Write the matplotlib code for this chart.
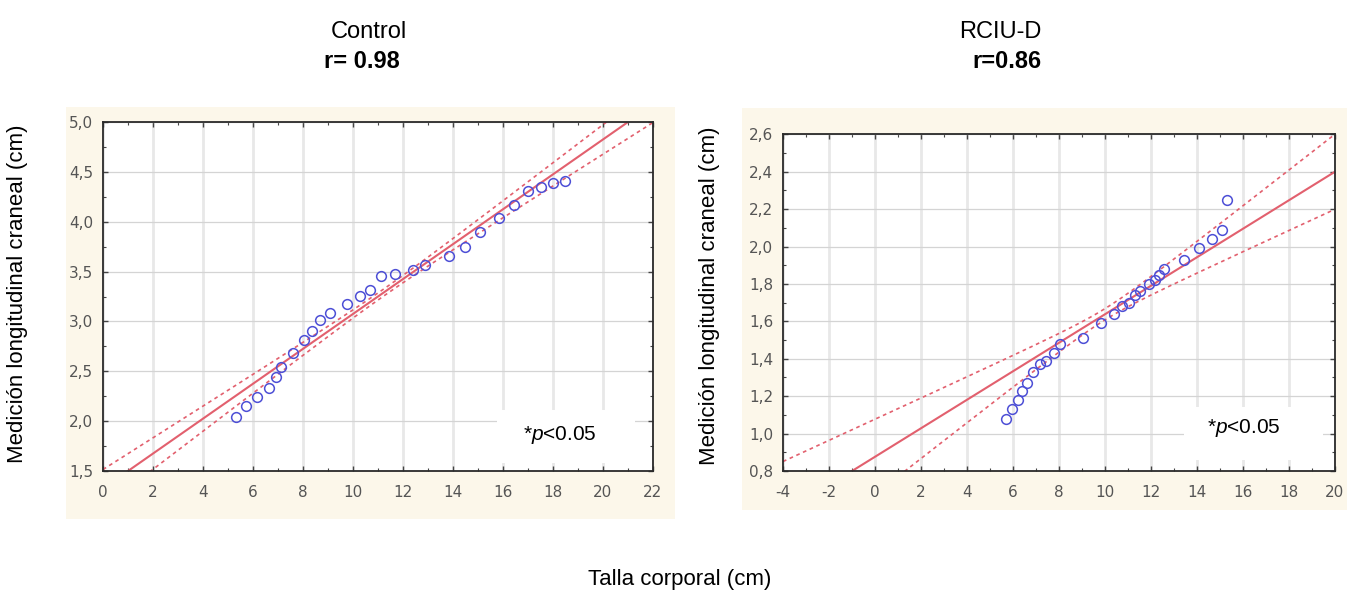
import numpy as np
import matplotlib
matplotlib.use("Agg")
import matplotlib.pyplot as plt
from matplotlib.patches import Rectangle
from matplotlib.ticker import MultipleLocator, FuncFormatter

plt.rcParams['font.family'] = ['Liberation Sans', 'DejaVu Sans']
plt.rcParams['mathtext.fontset'] = 'custom'
plt.rcParams['mathtext.rm'] = 'Liberation Sans'
plt.rcParams['mathtext.it'] = 'Liberation Sans:italic'

# Control group: body length (cm) vs cranial length (cm)
control_talla = [5.30, 5.70, 6.17, 6.62, 6.93, 7.12, 7.60, 8.02, 8.36, 8.67,
                 9.07, 9.78, 10.29, 10.68, 11.11, 11.68, 12.39, 12.87, 13.85,
                 14.48, 15.08, 15.83, 16.43, 17.01, 17.52, 18.01, 18.48]
control_craneal = [2.04, 2.15, 2.24, 2.33, 2.44, 2.54, 2.68, 2.81, 2.90, 3.01,
                   3.08, 3.17, 3.26, 3.32, 3.46, 3.48, 3.52, 3.57, 3.66,
                   3.75, 3.90, 4.04, 4.17, 4.31, 4.35, 4.39, 4.41]

# RCIU-D group
rciu_talla = [5.69, 5.95, 6.21, 6.38, 6.59, 6.88, 7.19, 7.45, 7.79, 8.05,
              9.05, 9.82, 10.37, 10.72, 11.06, 11.32, 11.54, 11.92, 12.18,
              12.35, 12.57, 13.44, 14.07, 14.67, 15.10, 15.30]
rciu_craneal = [1.08, 1.13, 1.18, 1.23, 1.27, 1.33, 1.37, 1.39, 1.43, 1.48,
                1.51, 1.59, 1.64, 1.68, 1.70, 1.74, 1.76, 1.80, 1.82,
                1.85, 1.88, 1.93, 1.99, 2.04, 2.09, 2.25]

# fitted line (slope, intercept) and 95% band (centre x, min half width, curvature)
control_fit = (0.175, 1.325)
control_band = (11.3, 0.035, 0.000273)
rciu_fit = (0.0762, 0.876)
rciu_band = (10.0, 0.03, 0.000394)

titles = ['Control', 'RCIU-D']
r_labels = ['r= 0.98', 'r=0.86']
ylabel = 'Medición longitudinal craneal (cm)'
xlabel = 'Talla corporal (cm)'
pval_label = r'*$\mathit{p}$<0.05'

CREAM = '#fcf7ea'
LINE_RED = '#e2606e'
DOT_BLUE = '#4d4fd6'


def fit_lines(fit, band, xs):
    slope, intercept = fit
    xc, h0, k = band
    y = slope * xs + intercept
    half = np.sqrt(h0 ** 2 + k * (xs - xc) ** 2)
    return y, y - half, y + half


def style_axes(ax, xlim, ylim, ystep):
    ax.set_facecolor('white')
    ax.xaxis.set_major_locator(MultipleLocator(2))
    ax.xaxis.set_minor_locator(MultipleLocator(1))
    ax.xaxis.set_major_formatter(FuncFormatter(lambda v, p: f'{v:.0f}'))
    yt = np.arange(ylim[0], ylim[1] + ystep / 2, ystep)
    ax.set_yticks(yt)
    ax.set_yticklabels([f'{t:.1f}'.replace('.', ',') for t in yt])
    ax.yaxis.set_minor_locator(MultipleLocator(ystep / 2))
    ax.set_xlim(*xlim)
    ax.set_ylim(*ylim)
    ax.set_axisbelow(True)
    ax.grid(True, axis='x', which='major', color='#e8e8e8', lw=2.0)
    ax.grid(True, axis='y', which='major', color='#d4d4d4', lw=0.9)
    ax.tick_params(which='both', direction='in', top=True, right=True,
                   color='#444444')
    ax.tick_params(which='major', length=3.5, width=1.0)
    ax.tick_params(which='minor', length=2.0, width=0.8)
    ax.tick_params(axis='x', labelsize=11, labelcolor='#555555', pad=10)
    ax.tick_params(axis='y', labelsize=11, labelcolor='#555555', pad=7)
    for lab in ax.get_xticklabels() + ax.get_yticklabels():
        lab.set_family('DejaVu Sans')
    for sp in ax.spines.values():
        sp.set_color('#2a2a2a')
        sp.set_linewidth(1.3)


fig = plt.figure(figsize=(13.6, 5.97), dpi=100)
W, H = 1360, 597

# cream panels behind each plot
fig.patches.append(Rectangle((66 / W, 1 - 519 / H), 609 / W, 412 / H,
                             transform=fig.transFigure, facecolor=CREAM,
                             edgecolor='none', zorder=-5))
fig.patches.append(Rectangle((742 / W, 1 - 510 / H), 605 / W, 402 / H,
                             transform=fig.transFigure, facecolor=CREAM,
                             edgecolor='none', zorder=-5))

ax1 = fig.add_axes([103 / W, 1 - 471 / H, 550 / W, 349 / H])
ax2 = fig.add_axes([783 / W, 1 - 471 / H, 552 / W, 336.7 / H])

panels = [
    (ax1, control_talla, control_craneal, control_fit, control_band,
     (0, 22), (1.5, 5.0), 0.5,
     (0.716, 0.023, 0.251, 0.152), (0.831, 0.103)),
    (ax2, rciu_talla, rciu_craneal, rciu_fit, rciu_band,
     (-4, 20), (0.8, 2.6), 0.2,
     (0.726, 0.033, 0.252, 0.157), (0.835, 0.128)),
]

for ax, xs, ys, fit, band, xlim, ylim, ystep, box, txt in panels:
    style_axes(ax, xlim, ylim, ystep)

    grid_x = np.linspace(xlim[0], xlim[1], 200)
    line, lo, hi = fit_lines(fit, band, grid_x)
    ax.plot(grid_x, line, color=LINE_RED, lw=1.5, zorder=2)
    ax.plot(grid_x, lo, color=LINE_RED, lw=1.2, ls=(0, (2.2, 2.2)), zorder=2)
    ax.plot(grid_x, hi, color=LINE_RED, lw=1.2, ls=(0, (2.2, 2.2)), zorder=2)

    ax.plot(xs, ys, 'o', ms=7, mfc='none', mec=DOT_BLUE, mew=1.1, zorder=3)

    ax.add_patch(Rectangle(box[:2], box[2], box[3], transform=ax.transAxes,
                           facecolor='white', edgecolor='none', zorder=1))
    ax.text(txt[0], txt[1], pval_label, transform=ax.transAxes,
            ha='center', va='center', fontsize=15, color='black', zorder=4)

# panel titles
fig.text(369 / W, 1 - 32 / H, titles[0], ha='center', va='center', fontsize=17)
fig.text(362 / W, 1 - 62 / H, r_labels[0], ha='center', va='center',
         fontsize=17, fontweight='bold')
fig.text(1000 / W, 1 - 32 / H, titles[1], ha='center', va='center', fontsize=17)
fig.text(1007 / W, 1 - 62 / H, r_labels[1], ha='center', va='center',
         fontsize=17, fontweight='bold')

fig.text(18 / W, 1 - 294 / H, ylabel, rotation=90, ha='center', va='center',
         fontsize=16)
fig.text(709 / W, 1 - 296 / H, ylabel, rotation=90, ha='center', va='center',
         fontsize=16)
fig.text(680 / W, 1 - 580 / H, xlabel, ha='center', va='center', fontsize=16)

fig.savefig('out.png', dpi=100, facecolor='white')
